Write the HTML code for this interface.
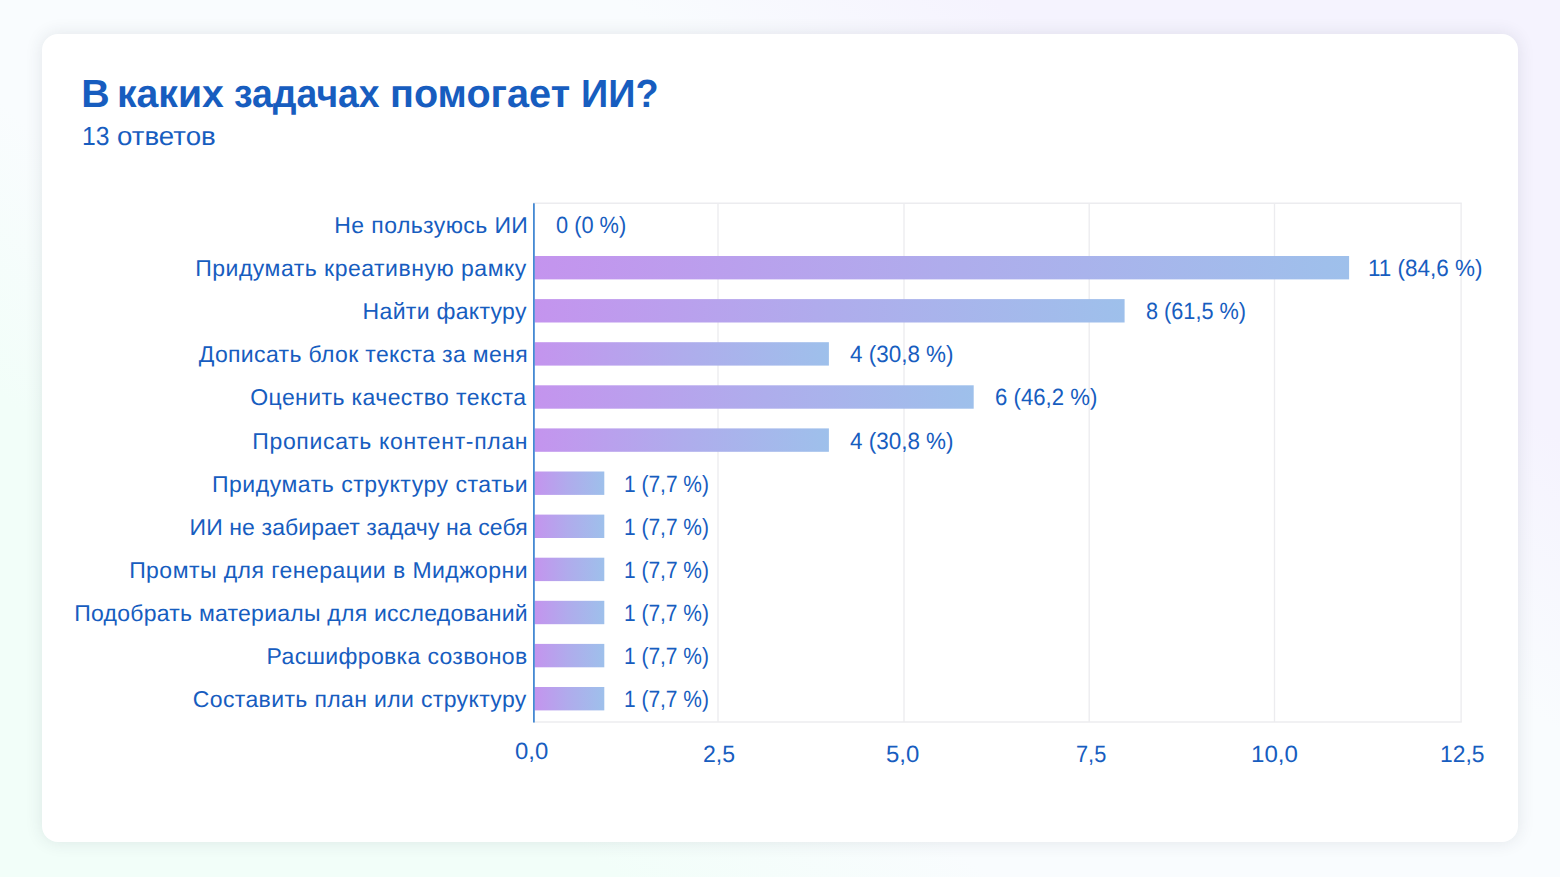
<!DOCTYPE html>
<html lang="ru"><head><meta charset="utf-8"><title>В каких задачах помогает ИИ?</title>
<style>
html,body{margin:0;padding:0}
body{width:1560px;height:877px;overflow:hidden;position:relative;text-rendering:geometricPrecision;font-family:"Liberation Sans",sans-serif;color:#175dbf;
background:linear-gradient(38deg,#f2fef9 0%,#f2fef9 23%,#f9fcfe 37%,#f9fcfe 65%,#f5f3fe 79%,#f5f3fe 100%);}
.card{position:absolute;left:42px;top:34px;width:1476px;height:808px;background:#fff;border-radius:16px;box-shadow:0 0 17px rgba(40,50,70,0.115)}
.t{position:absolute;white-space:nowrap;line-height:1;font-size:23px;transform-origin:0 50%}
h1,.sub{margin:0;font-size:39.3px;font-weight:700}
h1 .t{font-size:39.3px}
.sub{font-weight:400}
.sub .t{font-size:26.2px}
.ch{position:absolute;left:0;top:0}
</style></head><body>

<div class="card"></div>
<svg class="ch" width="1560" height="877" viewBox="0 0 1560 877">
<defs><linearGradient id="bg" x1="0" y1="0" x2="1" y2="0"><stop offset="0" stop-color="#c494ee"/><stop offset="0.5" stop-color="#afacec"/><stop offset="1" stop-color="#9ec0eb"/></linearGradient></defs>
<g stroke="#ececef" stroke-width="1.35" fill="none">
<line x1="718.0" y1="203.2" x2="718.0" y2="722.0"/>
<line x1="904.0" y1="203.2" x2="904.0" y2="722.0"/>
<line x1="1089.2" y1="203.2" x2="1089.2" y2="722.0"/>
<line x1="1274.5" y1="203.2" x2="1274.5" y2="722.0"/>
<line x1="1461.1" y1="203.2" x2="1461.1" y2="722.0"/>
<line x1="533.0" y1="203.2" x2="1461.8" y2="203.2"/>
<line x1="533.0" y1="722.0" x2="1461.8" y2="722.0"/>
</g>
<rect x="534.5" y="256.0" width="814.6" height="23.4" fill="url(#bg)"/>
<rect x="534.5" y="299.1" width="590.1" height="23.4" fill="url(#bg)"/>
<rect x="534.5" y="342.2" width="294.4" height="23.4" fill="url(#bg)"/>
<rect x="534.5" y="385.3" width="439.2" height="23.4" fill="url(#bg)"/>
<rect x="534.5" y="428.4" width="294.4" height="23.4" fill="url(#bg)"/>
<rect x="534.5" y="471.5" width="69.8" height="23.4" fill="url(#bg)"/>
<rect x="534.5" y="514.6" width="69.8" height="23.4" fill="url(#bg)"/>
<rect x="534.5" y="557.7" width="69.8" height="23.4" fill="url(#bg)"/>
<rect x="534.5" y="600.8" width="69.8" height="23.4" fill="url(#bg)"/>
<rect x="534.5" y="643.9" width="69.8" height="23.4" fill="url(#bg)"/>
<rect x="534.5" y="687.0" width="69.8" height="23.4" fill="url(#bg)"/>
<rect x="533.0" y="203.3" width="1.8" height="519.2" fill="#4589d3"/>
</svg>
<h1><span class="t" id="t0" style="left:81.29px;top:74.63px;">В</span> <span class="t" id="t1" style="left:116.64px;top:74.63px;transform:scaleX(0.9964);">каких</span> <span class="t" id="t2" style="left:234.26px;top:74.63px;transform:scaleX(0.9503);">задачах</span> <span class="t" id="t3" style="left:390.34px;top:74.63px;transform:scaleX(1.0081);">помогает</span> <span class="t" id="t4" style="left:580.74px;top:74.63px;transform:scaleX(0.9641);">ИИ?</span></h1>
<p class="sub"><span class="t" id="s0" style="left:82.14px;top:122.92px;transform:scaleX(0.9423);">13</span> <span class="t" id="s1" style="left:116.58px;top:122.92px;transform:scaleX(1.0566);">ответов</span></p>
<div class="t" id="l0" style="left:334.36px;top:213.63px;letter-spacing:0.398px;">Не пользуюсь ИИ</div>
<div class="t" id="v0" style="left:556.18px;top:214.21px;transform:scaleX(0.9263);font-size:23.5px;">0 (0 %)</div>
<div class="t" id="l1" style="left:195.19px;top:256.73px;letter-spacing:0.508px;">Придумать креативную рамку</div>
<div class="t" id="v1" style="left:1367.95px;top:257.31px;transform:scaleX(0.9563);font-size:23.5px;">11 (84,6 %)</div>
<div class="t" id="l2" style="left:362.61px;top:299.83px;letter-spacing:0.309px;">Найти фактуру</div>
<div class="t" id="v2" style="left:1146.42px;top:300.41px;transform:scaleX(0.9229);font-size:23.5px;">8 (61,5 %)</div>
<div class="t" id="l3" style="left:198.74px;top:342.93px;letter-spacing:0.348px;">Дописать блок текста за меня</div>
<div class="t" id="v3" style="left:850.24px;top:342.51px;transform:scaleX(0.9548);font-size:23.5px;">4 (30,8 %)</div>
<div class="t" id="l4" style="left:250.27px;top:386.03px;letter-spacing:0.408px;">Оценить качество текста</div>
<div class="t" id="v4" style="left:994.86px;top:385.61px;transform:scaleX(0.9436);font-size:23.5px;">6 (46,2 %)</div>
<div class="t" id="l5" style="left:252.24px;top:430.13px;letter-spacing:0.669px;">Прописать контент-план</div>
<div class="t" id="v5" style="left:850.24px;top:429.71px;transform:scaleX(0.9548);font-size:23.5px;">4 (30,8 %)</div>
<div class="t" id="l6" style="left:211.92px;top:473.23px;letter-spacing:0.544px;">Придумать структуру статьи</div>
<div class="t" id="v6" style="left:623.77px;top:472.81px;transform:scaleX(0.8906);font-size:23.5px;">1 (7,7 %)</div>
<div class="t" id="l7" style="left:189.56px;top:516.33px;letter-spacing:0.105px;">ИИ не забирает задачу на себя</div>
<div class="t" id="v7" style="left:623.77px;top:515.91px;transform:scaleX(0.8906);font-size:23.5px;">1 (7,7 %)</div>
<div class="t" id="l8" style="left:129.14px;top:559.43px;letter-spacing:0.462px;">Промты для генерации в Миджорни</div>
<div class="t" id="v8" style="left:623.77px;top:559.01px;transform:scaleX(0.8906);font-size:23.5px;">1 (7,7 %)</div>
<div class="t" id="l9" style="left:74.29px;top:601.53px;letter-spacing:0.247px;">Подобрать материалы для исследований</div>
<div class="t" id="v9" style="left:623.77px;top:602.11px;transform:scaleX(0.8905);font-size:23.5px;">1 (7,7 %)</div>
<div class="t" id="l10" style="left:266.58px;top:644.63px;letter-spacing:0.347px;">Расшифровка созвонов</div>
<div class="t" id="v10" style="left:623.79px;top:645.21px;transform:scaleX(0.8904);font-size:23.5px;">1 (7,7 %)</div>
<div class="t" id="l11" style="left:192.82px;top:687.73px;letter-spacing:0.364px;">Составить план или структуру</div>
<div class="t" id="v11" style="left:623.79px;top:688.31px;transform:scaleX(0.8902);font-size:23.5px;">1 (7,7 %)</div>
<div class="t" id="k0" style="left:515.46px;top:740.41px;transform:scaleX(1.0176);font-size:23.5px;">0,0</div>
<div class="t" id="k1" style="left:702.61px;top:743.31px;transform:scaleX(0.9803);font-size:23.5px;">2,5</div>
<div class="t" id="k2" style="left:886.47px;top:743.31px;transform:scaleX(1.0177);font-size:23.5px;">5,0</div>
<div class="t" id="k3" style="left:1075.7px;top:743.31px;transform:scaleX(0.9267);font-size:23.5px;">7,5</div>
<div class="t" id="k4" style="left:1250.87px;top:743.31px;transform:scaleX(1.0238);font-size:23.5px;">10,0</div>
<div class="t" id="k5" style="left:1439.68px;top:743.31px;transform:scaleX(0.9714);font-size:23.5px;">12,5</div>
</body></html>
